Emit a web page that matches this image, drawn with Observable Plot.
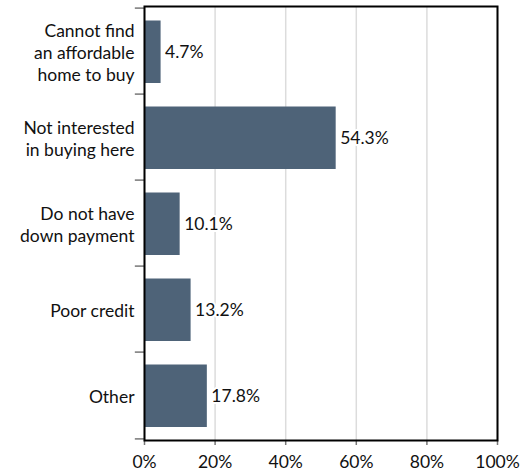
<!DOCTYPE html>
<html>
<head>
<meta charset="utf-8">
<script src="https://cdn.jsdelivr.net/npm/d3@7"></script>
<script src="https://cdn.jsdelivr.net/npm/@observablehq/plot@0.6"></script>
<style>
  html, body { margin: 0; padding: 0; background: white; }
</style>
</head>
<body>
<div id="chart"></div>
<script>
const categories = [
  "Cannot find\nan affordable\nhome to buy",
  "Not interested\nin buying here",
  "Do not have\ndown payment",
  "Poor credit",
  "Other"
];
const values = [4.7, 54.3, 10.1, 13.2, 17.8];
const xTicks = [0, 20, 40, 60, 80, 100];

const data = categories.map((c, i) => ({category: c, value: values[i]}));

const W = 524, H = 476, MT = 6, MB = 36, ML = 144, MR = 27;
const step = (H - MT - MB) / categories.length;
const FS = 17.5;

const chart = Plot.plot({
  width: W,
  height: H,
  marginLeft: ML,
  marginRight: MR,
  marginTop: MT,
  marginBottom: MB,
  style: {fontFamily: "Lato, sans-serif", fontSize: FS + "px", color: "#111", background: "white"},
  x: {domain: [0, 100]},
  y: {domain: categories, padding: 0},
  marks: [
    Plot.gridX(xTicks, {stroke: "#dcdcdc", strokeOpacity: 1, strokeWidth: 1.5}),
    Plot.barX(data, {x: "value", y: "category", fill: "#4e6378", insetTop: 12.5, insetBottom: 11}),
    Plot.text(data, {
      x: "value", y: "category",
      text: d => d.value.toFixed(1) + "%",
      textAnchor: "start", dx: 4, dy: 1,
      fill: "#111", stroke: "white", strokeWidth: 4,
      fontSize: FS
    }),
    Plot.ruleY(categories, {y: d => d, x1: -2.6, x2: 0, dy: -step / 2, stroke: "#777", strokeWidth: 1.5}),
    Plot.ruleY(categories.slice(-1), {y: d => d, x1: -2.6, x2: 0, dy: step / 2, stroke: "#777", strokeWidth: 1.5}),
    Plot.axisX(xTicks, {tickSize: 5, tickPadding: 10, stroke: "#777", strokeWidth: 1.5, fill: "#111", tickFormat: d => d + "%", label: null, fontSize: FS}),
    Plot.axisY({tickSize: 0, tickPadding: 10, label: null, lineHeight: 1.26, fill: "#111", fontSize: FS}),
    Plot.frame({stroke: "black", strokeWidth: 2})
  ]
});
document.getElementById("chart").appendChild(chart);
</script>
</body>
</html>
